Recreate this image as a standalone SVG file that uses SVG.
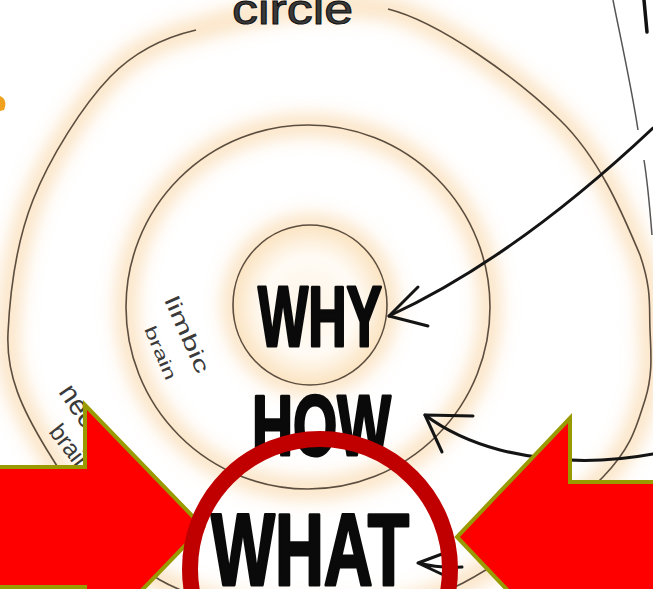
<svg xmlns="http://www.w3.org/2000/svg" width="653" height="589" viewBox="0 0 653 589">
<defs>
<style>
.ring{fill:none;stroke:#5b4d3f;stroke-width:1.6}
.glow{fill:none;stroke:#f6c27a;stroke-width:22;opacity:0.45}
.big{font-family:"Liberation Sans","DejaVu Sans",sans-serif;font-weight:bold;fill:#0a0a0a;stroke:#0a0a0a;stroke-width:3;stroke-linejoin:round}
.hand{font-family:"Liberation Sans","DejaVu Sans",sans-serif;fill:#3a3a3a}
.conn{fill:none;stroke:#141414;stroke-width:3;stroke-linecap:round;stroke-linejoin:round}
.red{fill:#ff0000;stroke:#999900;stroke-width:4;stroke-linejoin:miter}
</style>
<filter id="blur" x="-20%" y="-20%" width="140%" height="140%"><feGaussianBlur stdDeviation="9"/></filter>
<radialGradient id="core" cx="0.5" cy="0.5" r="0.5">
<stop offset="0" stop-color="#fdf1df"/>
<stop offset="0.6" stop-color="#fffaf2"/>
<stop offset="1" stop-color="#fbe3c0"/>
</radialGradient>
</defs>
<rect width="653" height="589" fill="#ffffff"/>

<g id="glows" filter="url(#blur)">
<path class="glow" d="M388,9 C440,22 518,79 560,120 C602,161 625,220 640,255 C652,290 649,306 650,330 C651,354 653,375 645,400 C637,424 633,446 603,477 C573,508 508,560 463,583 C417,606 380,612 330,612 C280,612 207,607 160,580 C113,553 72,491 47,450 C22,409 6,375 8,333 C10,291 16,243 33,200 C50,157 83,105 110,77 C137,49 170,36 196,30 C260,10 330,0 388,9"/>
<circle class="glow" cx="308" cy="307" r="182"/>
<ellipse class="glow" cx="310" cy="305" rx="77" ry="80"/>
</g>

<g id="circle-outer">
<path class="ring" d="M388,9 C440,22 518,79 560,120 C602,161 625,220 640,255 C652,290 649,306 650,330 C651,354 653,375 645,400 C637,424 633,446 603,477 C573,508 508,560 463,583 C417,606 380,612 330,612 C280,612 207,607 160,580 C113,553 72,491 47,450 C22,409 6,375 8,333 C10,291 16,243 33,200 C50,157 83,105 110,77 C137,49 170,36 196,30"/>
</g>
<g id="circle-middle">
<circle class="ring" cx="308" cy="307" r="182"/>
</g>
<g id="circle-inner">
<ellipse cx="310" cy="305" rx="77" ry="80" fill="url(#core)" opacity="0.8"/>
<ellipse class="ring" cx="310" cy="305" rx="77" ry="80"/>
</g>

<g id="edge-marks">
<path d="M613,0 C622,45 632,90 638,130 M644,160 C648,185 650,210 652,235" fill="none" stroke="#555" stroke-width="1.5"/>
<path d="M644,0 L647,32" fill="none" stroke="#111" stroke-width="3.5" stroke-linecap="round"/>
<path d="M0,96 C5,98 7,103 4,110 L0,111 Z" fill="#f0a21e"/>
</g>

<g id="label-circle">
<text class="hand" x="232" y="24" font-size="42" textLength="121" lengthAdjust="spacingAndGlyphs" fill="#111" stroke="#111" stroke-width="1">circle</text>
</g>
<g id="label-limbic">
<text class="hand" transform="translate(164,300) rotate(66)" font-size="21" textLength="82" lengthAdjust="spacingAndGlyphs">limbic</text>
<text class="hand" transform="translate(144,329) rotate(67)" font-size="17" textLength="57" lengthAdjust="spacingAndGlyphs">brain</text>
</g>
<g id="label-neocortex">
<text class="hand" transform="translate(58,392) rotate(56)" font-size="28">neocortex</text>
<text class="hand" transform="translate(48,432) rotate(52)" font-size="24">brain</text>
</g>

<g id="label-why">
<text class="big" x="258" y="346" font-size="86" textLength="124" lengthAdjust="spacingAndGlyphs">WHY</text>
</g>
<g id="label-how">
<text class="big" x="252" y="455" font-size="86" textLength="139" lengthAdjust="spacingAndGlyphs">HOW</text>
</g>
<g id="label-what">
<text class="big" x="211" y="585" font-size="102" textLength="198" lengthAdjust="spacingAndGlyphs">WHAT</text>
</g>

<g id="connectors">
<path class="conn" d="M653,128 Q515,258 389,316"/>
<path class="conn" d="M418,287 L389,316 L428,326"/>
<path class="conn" d="M653,454 C610,462 560,465 500,450 C470,442 445,430 425,415"/>
<path class="conn" d="M473,416 L425,415 L442,452"/>
<path class="conn" d="M450,551 L418,563 L450,578 M418,563 C430,566 445,568 462,567"/>
</g>

<g id="arrow-left">
<polygon class="red" points="-5,467 85,467 85,405 203,527 85,649 85,587 -5,587"/>
</g>
<g id="arrow-right">
<polygon class="red" points="658,482 570,482 570,418 457,537 570,656 570,592 658,592"/>
</g>
<g id="ring-what">
<circle cx="320" cy="569" r="130" fill="none" stroke="#c00000" stroke-width="16"/>
</g>
</svg>
